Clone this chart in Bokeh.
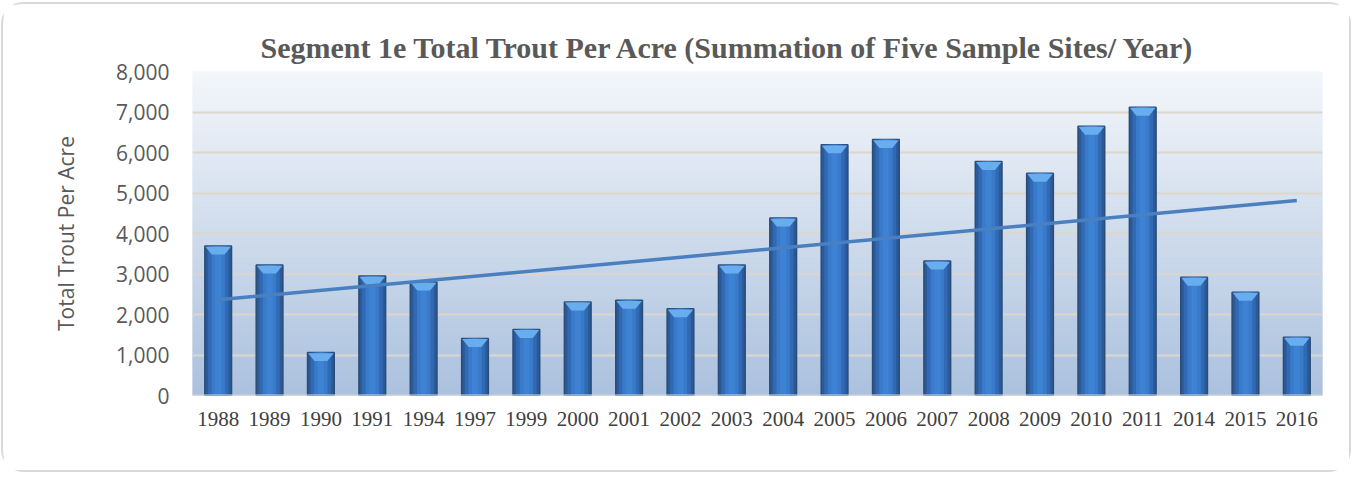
import numpy as np
from bokeh.plotting import figure
from bokeh.models import FactorRange, Range1d, SingleIntervalTicker, NumeralTickFormatter, Title, ColumnDataSource
from bokeh.embed import file_html
from bokeh.resources import INLINE

years = ["1988", "1989", "1990", "1991", "1994", "1997", "1999", "2000", "2001", "2002", "2003",
         "2004", "2005", "2006", "2007", "2008", "2009", "2010", "2011", "2014", "2015", "2016"]
trout = [3690, 3220, 1060, 2950, 2800, 1410, 1630, 2310, 2350, 2140, 3220,
         4380, 6190, 6320, 3320, 5780, 5490, 6650, 7120, 2920, 2550, 1440]

title_text = "Segment 1e Total Trout Per Acre (Summation of Five Sample Sites/ Year)"
y_label = "Total Trout Per Acre"

W, H = 1350, 470
p = figure(width=W, height=H, x_range=FactorRange(*years), y_range=Range1d(0, 8000),
           output_backend="svg", toolbar_location=None,
           min_border_left=189, min_border_top=67, min_border_right=31, min_border_bottom=79)
p.styles = {"border": "2px solid #d9d9d9", "border-radius": "22px",
            "margin-left": "1px", "margin-top": "2px"}
p.background_fill_color = None
p.border_fill_color = "white"
p.outline_line_color = None

# background gradient (light at top, bluish at bottom)
n = 80
edges = np.linspace(0, 8000, n + 1)
top_c = np.array([0xf4, 0xf7, 0xfb])
bot_c = np.array([0xab, 0xc1, 0xde])
cols = []
for i in range(n):
    t = (edges[i] + edges[i + 1]) / 2 / 8000
    c = bot_c + (top_c - bot_c) * t
    cols.append("#%02x%02x%02x" % tuple(int(v) for v in c))
bg = p.quad(left=0, right=len(years), bottom=edges[:-1], top=edges[1:], fill_color=cols,
            line_color=cols, line_width=1)
bg.level = "image"

# grid
p.xgrid.grid_line_color = None
p.ygrid.grid_line_color = "#dcd6cb"
p.ygrid.grid_line_width = 2
p.ygrid.level = "underlay"

src = ColumnDataSource(dict(x=years, top=trout))
# bars (layered for a cylinder-like shading)
p.vbar(x="x", top="top", width=0.52, source=src, fill_color="#2a5a98", line_color="#2b4c78", line_width=1.5)
p.vbar(x="x", top="top", width=0.40, source=src, fill_color="#3169b3", line_color=None)
p.vbar(x="x", top="top", width=0.26, source=src, fill_color="#3a7acb", line_color=None)
p.vbar(x="x", top="top", width=0.12, source=src, fill_color="#3e82d3", line_color=None)

# top bevel of each bar
xs, ys = [], []
hw = 0.25
for i, v in enumerate(trout):
    c = i + 0.5
    xs.append([c - hw, c + hw, c + hw * 0.5, c - hw * 0.5])
    ys.append([v - 15, v - 15, v - 210, v - 210])
p.patches(xs, ys, fill_color="#68adee", line_color=None)

# axis baseline
p.segment(x0=0, x1=len(years), y0=0, y1=0, line_color="#d4d4d4", line_width=2)

# linear trend line
idx = np.arange(len(years))
m, b = np.polyfit(idx, trout, 1)
p.line(x=[years[0], years[-1]], y=[b, m * idx[-1] + b], line_color="#4a7fc0", line_width=3.5)

# axes
p.yaxis.ticker = SingleIntervalTicker(interval=1000)
p.yaxis.formatter = NumeralTickFormatter(format="0,0")
p.yaxis.axis_line_color = None
p.yaxis.major_tick_line_color = None
p.yaxis.minor_tick_line_color = None
p.yaxis.major_tick_out = 0
p.yaxis.major_label_text_font = "Open Sans"
p.yaxis.major_label_text_font_size = "21px"
p.yaxis.major_label_text_color = "#595959"
p.yaxis.major_label_standoff = 19
p.yaxis.axis_label = y_label
p.yaxis.axis_label_text_font = "Open Sans"
p.yaxis.axis_label_text_font_size = "21px"
p.yaxis.axis_label_text_font_style = "normal"
p.yaxis.axis_label_text_color = "#595959"
p.yaxis.axis_label_standoff = 33

p.xaxis.axis_line_color = None
p.xaxis.major_tick_line_color = None
p.xaxis.minor_tick_line_color = None
p.xaxis.major_tick_out = 0
p.xaxis.major_label_text_font = "Liberation Serif"
p.xaxis.major_label_text_font_size = "21px"
p.xaxis.major_label_text_color = "#404040"
p.xaxis.major_label_standoff = 16

t = Title(text=title_text, align="left", offset=68, text_font="Liberation Serif",
          text_font_size="30px", text_font_style="bold", text_color="#595959", standoff=15)
p.add_layout(t, "above")

open("out.html", "w").write(file_html(p, INLINE))
